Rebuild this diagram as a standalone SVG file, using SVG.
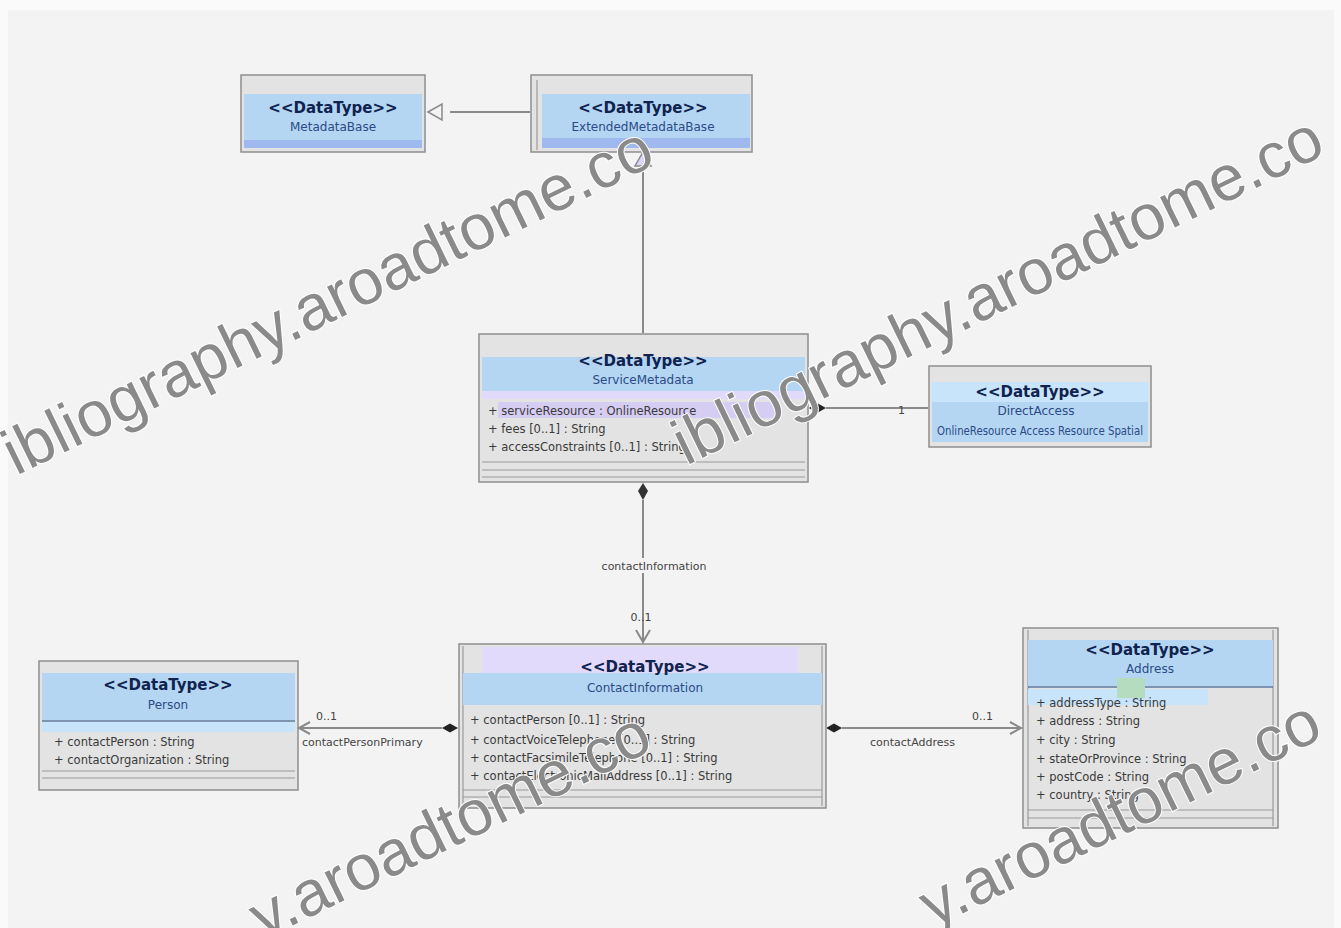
<svg xmlns="http://www.w3.org/2000/svg" width="1341" height="928" viewBox="0 0 1341 928">
<style>
.frame{fill:#e3e3e3;stroke:#8e8e8e;stroke-width:1.5}
.blue{fill:#b4d6f3}
.blue2{fill:#c8e4fa}
.dark{fill:#9fb8ee}
.lav{fill:#e2dafa}
.st{font-family:"DejaVu Sans",sans-serif;font-weight:bold;font-size:15px;fill:#10224e;text-anchor:middle}
.nm{font-family:"DejaVu Sans",sans-serif;font-size:12px;fill:#2b4a86;text-anchor:middle}
.at{font-family:"DejaVu Sans",sans-serif;font-size:11.5px;fill:#3a3a3a}
.sep{stroke:#9a9a9a;stroke-width:1.2}
.con{stroke:#8a8a8a;stroke-width:2;fill:none}
.lbl{font-family:"DejaVu Sans",sans-serif;font-size:11px;fill:#444}
.wm{font-family:"Liberation Sans",sans-serif;font-size:64px;fill:#8a8a8a;stroke:#ffffff;stroke-width:2;paint-order:stroke}
</style>
<rect x="0" y="0" width="1341" height="928" fill="#fafafa"/>
<rect x="8" y="10" width="1326" height="918" fill="#f3f3f3"/>

<g id="connectors">
  <line class="con" x1="450" y1="112" x2="530" y2="112"/>
  <polygon points="428,112 442,104 442,120" fill="#f3f3f3" stroke="#8a8a8a" stroke-width="1.5"/>
  <line class="con" x1="643" y1="166" x2="643" y2="333"/>
  <polygon points="643,152 651,166 635,166" fill="#ded4f6" stroke="#8a8a8a" stroke-width="1.5"/>
  <line class="con" x1="826" y1="408" x2="928" y2="408"/>
  <polygon points="809,408 817,403 826,408 817,413" fill="#222"/>
  <text class="lbl" x="898" y="414">1</text>
  <line class="con" x1="643" y1="500" x2="643" y2="643"/>
  <polygon points="643,483 648,491 643,500 638,491" fill="#333"/>
  <rect x="583" y="558" width="145" height="15" fill="#f3f3f3"/>
  <text class="lbl" x="654" y="570" text-anchor="middle">contactInformation</text>
  <text class="lbl" x="641" y="621" text-anchor="middle">0..1</text>
  <polyline class="con" points="636,630 643,642 650,630"/>
  <line class="con" x1="298" y1="728" x2="442" y2="728"/>
  <polygon points="458,728 450,723.5 442,728 450,732.5" fill="#222"/>
  <polyline class="con" points="310,722 299,728 310,734"/>
  <text class="lbl" x="316" y="720">0..1</text>
  <text class="lbl" x="302" y="746">contactPersonPrimary</text>
  <line class="con" x1="842" y1="728" x2="1022" y2="728"/>
  <polygon points="826,728 834,723.5 842,728 834,732.5" fill="#222"/>
  <polyline class="con" points="1010,722 1021,728 1010,734"/>
  <text class="lbl" x="870" y="746">contactAddress</text>
  <text class="lbl" x="972" y="720">0..1</text>
</g>

<g id="node-metadatabase">
  <rect class="frame" x="241" y="75" width="184" height="77"/>
  <rect class="blue" x="244" y="94" width="178" height="46"/>
  <rect class="dark" x="244" y="140" width="178" height="8"/>
  <text class="st" x="333" y="113">&lt;&lt;DataType&gt;&gt;</text>
  <text class="nm" x="333" y="131">MetadataBase</text>
</g>

<g id="node-extendedmetadatabase">
  <rect class="frame" x="531" y="75" width="221" height="77"/>
  <line class="sep" x1="537" y1="80" x2="537" y2="150"/>
  <rect class="blue" x="542" y="94" width="208" height="44"/>
  <rect class="dark" x="542" y="138" width="208" height="10"/>
  <text class="st" x="643" y="113">&lt;&lt;DataType&gt;&gt;</text>
  <text class="nm" x="643" y="131">ExtendedMetadataBase</text>
</g>

<g id="node-servicemetadata">
  <rect class="frame" x="479" y="334" width="329" height="148"/>
  <rect class="blue" x="482" y="357" width="323" height="34"/>
  <rect class="lav" x="482" y="391" width="323" height="8"/>
  <text class="st" x="643" y="366">&lt;&lt;DataType&gt;&gt;</text>
  <text class="nm" x="643" y="384">ServiceMetadata</text>
  <rect x="498" y="402" width="280" height="16" fill="#d6cdf2"/>
  <text class="at" x="488" y="415">+ serviceResource : OnlineResource</text>
  <text class="at" x="488" y="433">+ fees [0..1] : String</text>
  <text class="at" x="488" y="451">+ accessConstraints [0..1] : String</text>
  <line class="sep" x1="482" y1="462" x2="805" y2="462"/>
  <line class="sep" x1="482" y1="470" x2="805" y2="470"/>
  <line class="sep" x1="482" y1="477" x2="805" y2="477"/>
</g>

<g id="node-directaccess">
  <rect class="frame" x="929" y="366" width="222" height="81"/>
  <rect class="blue2" x="932" y="382" width="216" height="20"/>
  <rect class="blue" x="932" y="402" width="216" height="40"/>
  <text class="st" x="1040" y="397">&lt;&lt;DataType&gt;&gt;</text>
  <text class="nm" x="1036" y="415">DirectAccess</text>
  <text class="nm" x="1040" y="435" font-size="10" textLength="206" lengthAdjust="spacingAndGlyphs">OnlineResource Access Resource Spatial</text>
</g>

<g id="node-person">
  <rect class="frame" x="39" y="661" width="259" height="129"/>
  <rect class="blue" x="42" y="673" width="253" height="47"/>
  <line x1="42" y1="721" x2="295" y2="721" stroke="#5d7aa0" stroke-width="1.5"/>
  <rect class="blue2" x="42" y="722" width="253" height="10"/>
  <text class="st" x="168" y="690">&lt;&lt;DataType&gt;&gt;</text>
  <text class="nm" x="168" y="709">Person</text>
  <text class="at" x="54" y="746">+ contactPerson : String</text>
  <text class="at" x="54" y="764">+ contactOrganization : String</text>
  <line class="sep" x1="42" y1="771" x2="295" y2="771"/>
  <line class="sep" x1="42" y1="778" x2="295" y2="778"/>
</g>

<g id="node-contactinformation">
  <rect class="frame" x="459" y="644" width="367" height="164"/>
  <line class="sep" x1="463" y1="646" x2="463" y2="806"/>
  <line class="sep" x1="822" y1="646" x2="822" y2="806"/>
  <rect class="lav" x="482" y="647" width="316" height="26"/>
  <rect class="blue" x="463" y="673" width="359" height="32"/>
  <text class="st" x="645" y="672">&lt;&lt;DataType&gt;&gt;</text>
  <text class="nm" x="645" y="692">ContactInformation</text>
  <text class="at" x="470" y="724">+ contactPerson [0..1] : String</text>
  <text class="at" x="470" y="744">+ contactVoiceTelephone [0..1] : String</text>
  <text class="at" x="470" y="762">+ contactFacsimileTelephone [0..1] : String</text>
  <text class="at" x="470" y="780">+ contactElectronicMailAddress [0..1] : String</text>
  <line class="sep" x1="463" y1="790" x2="822" y2="790"/>
  <line class="sep" x1="463" y1="797" x2="822" y2="797"/>
</g>

<g id="node-address">
  <rect class="frame" x="1023" y="628" width="255" height="200"/>
  <line class="sep" x1="1028" y1="630" x2="1028" y2="826"/>
  <line class="sep" x1="1273" y1="630" x2="1273" y2="826"/>
  <rect class="blue" x="1028" y="640" width="245" height="46"/>
  <line x1="1028" y1="687" x2="1273" y2="687" stroke="#5d7aa0" stroke-width="1.5"/>
  <rect class="blue2" x="1028" y="689" width="180" height="16"/>
  <rect x="1117" y="678" width="28" height="20" fill="#b6dcc0"/>
  <text class="st" x="1150" y="655">&lt;&lt;DataType&gt;&gt;</text>
  <text class="nm" x="1150" y="673">Address</text>
  <text class="at" x="1036" y="707">+ addressType : String</text>
  <text class="at" x="1036" y="725">+ address : String</text>
  <text class="at" x="1036" y="744">+ city : String</text>
  <text class="at" x="1036" y="763">+ stateOrProvince : String</text>
  <text class="at" x="1036" y="781">+ postCode : String</text>
  <text class="at" x="1036" y="799">+ country : String</text>
  <line class="sep" x1="1028" y1="810" x2="1273" y2="810"/>
  <line class="sep" x1="1028" y1="818" x2="1273" y2="818"/>
</g>

<g id="watermarks">
  <text class="wm" x="16" y="476" transform="rotate(-26 16 476)">ibliography.aroadtome.co</text>
  <text class="wm" x="686" y="466" transform="rotate(-26 686 466)">ibliography.aroadtome.co</text>
  <text class="wm" x="263" y="940" transform="rotate(-26 263 940)">y.aroadtome.co</text>
  <text class="wm" x="933" y="928" transform="rotate(-26 933 928)">y.aroadtome.co</text>
</g>
</svg>
